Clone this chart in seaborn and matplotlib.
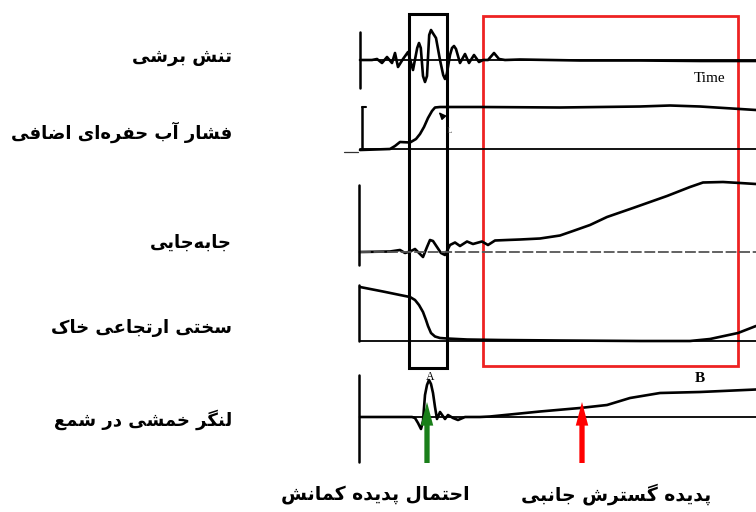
import numpy as np
import pandas as pd
import matplotlib
matplotlib.use("Agg")
import matplotlib.pyplot as plt
from matplotlib.patches import Rectangle
import seaborn as sns

# ---------------- data (time in arbitrary units, amplitude in arbitrary units) ----
shear_t = [0, 3, 4.25, 5.5, 6.75, 8, 8.75, 9.5, 10.75, 12, 13.25, 14.3, 14.75, 15.2, 15.75, 16.25,
           16.75, 17.3, 17.75, 18.2, 19, 20, 20.8, 21.25, 21.7, 22.5, 23, 23.5, 24, 25, 26.25,
           27.25, 28.5, 29.75, 30.75, 32, 33.5, 34.75, 36.25, 40, 55, 70, 85, 99]
shear_v = [0, 0, 1, -3, 3, -3, 7, -7, 1, 8, -10, 12, 17, 12, -16, -22,
           -16, 25, 30, 27, 22, 0, -15, -19, -14, 5, 12, 14, 11, -3, 6,
           -3, 5, -2, 0, 0, 7, 1, 0, 0.5, -0.5, -0.5, -1, -1]

pore_t = [0, 7.5, 8.75, 10, 12.5, 14, 15, 16, 17, 18, 18.75, 20, 30, 50, 70, 77.5, 85, 95, 99]
pore_v = [-1, 0, 3, 7, 6.5, 10, 15, 22, 31, 38, 41.5, 42, 42, 41.5, 42.5, 43.5, 42.5, 40, 39]

disp_t = [0, 7.5, 10, 11.25, 12.5, 13.75, 14.75, 15.75, 16.75, 17.5, 18.25, 19.25, 20.25, 21.25,
          22.5, 23.75, 25, 26.75, 28.25, 30.5, 32, 33.75, 36.75, 40, 45, 50, 53.25, 57.5, 61.75,
          68.25, 76.75, 82.5, 85.75, 90.75, 95, 99]
disp_v = [0, 0.5, 2, -1, 0.5, 3, -1, -5, 5, 12, 11, 5, -1, -3,
          7, 9.5, 6, 10.5, 8, 10.5, 7, 11.5, 12, 12.5, 13.5, 16.5, 21, 27, 35,
          44, 56, 65, 69.5, 70, 69, 68]

stiff_t = [0, 5.75, 10, 12.5, 13.75, 14.75, 15.75, 16.5, 17, 17.75, 18.75, 20, 21.75, 26.75,
           35, 50, 70, 82.5, 87.5, 94.5, 99]
stiff_v = [54, 49.5, 46, 44, 41, 36, 29, 21, 15, 8, 4.5, 3, 2.5, 1.5,
           1, 0.5, 0, 0, 2, 8, 15]

moment_t = [0, 13, 13.75, 14.5, 15.25, 15.75, 16.25, 16.75, 17.25, 17.75, 18.25, 18.75, 19.25,
            20, 21.25, 22, 23.25, 24.5, 26.25, 30, 32.5, 38.75, 45, 55, 61.75, 67.5, 75, 85, 99]
moment_v = [0, 0, -1, -6, -12, -4, 22, 32, 37, 33, 24, 10, -2,
            5, -2, 2, -1, -3, 0, 0, 0.5, 3, 5.5, 9, 12, 19, 24, 25, 27.5]

labels = ["تنش برشی", "فشار آب حفره‌ای اضافی", "جابه‌جایی", "سختی ارتجاعی خاک", "لنگر خمشی در شمع"]
bottom_labels = ["احتمال پدیده کمانش", "پدیده گسترش جانبی"]

# ---------------- Persian shaping (presentation forms, RTL) ----------------
FORMS = {
    'ا': ('\uFE8D', '\uFE8E', None, None), 'آ': ('\uFE81', '\uFE82', None, None),
    'ب': ('\uFE8F', '\uFE90', '\uFE91', '\uFE92'), 'پ': ('\uFB56', '\uFB57', '\uFB58', '\uFB59'),
    'ت': ('\uFE95', '\uFE96', '\uFE97', '\uFE98'), 'ج': ('\uFE9D', '\uFE9E', '\uFE9F', '\uFEA0'),
    'ح': ('\uFEA1', '\uFEA2', '\uFEA3', '\uFEA4'), 'خ': ('\uFEA5', '\uFEA6', '\uFEA7', '\uFEA8'),
    'د': ('\uFEA9', '\uFEAA', None, None), 'ر': ('\uFEAD', '\uFEAE', None, None),
    'ز': ('\uFEAF', '\uFEB0', None, None), 'و': ('\uFEED', '\uFEEE', None, None),
    'س': ('\uFEB1', '\uFEB2', '\uFEB3', '\uFEB4'), 'ش': ('\uFEB5', '\uFEB6', '\uFEB7', '\uFEB8'),
    'ض': ('\uFEBD', '\uFEBE', '\uFEBF', '\uFEC0'), 'ع': ('\uFEC9', '\uFECA', '\uFECB', '\uFECC'),
    'ف': ('\uFED1', '\uFED2', '\uFED3', '\uFED4'), 'ک': ('\uFB8E', '\uFB8F', '\uFB90', '\uFB91'),
    'گ': ('\uFB92', '\uFB93', '\uFB94', '\uFB95'), 'ل': ('\uFEDD', '\uFEDE', '\uFEDF', '\uFEE0'),
    'م': ('\uFEE1', '\uFEE2', '\uFEE3', '\uFEE4'), 'ن': ('\uFEE5', '\uFEE6', '\uFEE7', '\uFEE8'),
    'ه': ('\uFEE9', '\uFEEA', '\uFEEB', '\uFEEC'), 'ی': ('\uFBFC', '\uFBFD', '\uFBFE', '\uFBFF'),
}


def shape(s):
    out = []
    for i, c in enumerate(s):
        if c not in FORMS:
            out.append(c)
            continue
        prev = s[i - 1] if i > 0 else None
        nxt = s[i + 1] if i + 1 < len(s) else None
        jp = prev in FORMS and FORMS[prev][2] is not None
        jn = nxt in FORMS and FORMS[c][2] is not None
        iso, fin, ini, med = FORMS[c]
        out.append(med if (jp and jn) else fin if jp else ini if jn else iso)
    return ''.join(out).replace('\u200c', '')[::-1]


# ---------------- figure ----------------
sns.set_theme(style="white")
plt.rcParams['font.family'] = ['DejaVu Sans']
plt.rcParams['text.color'] = 'black'

fig = plt.figure(figsize=(7.56, 5.12), dpi=100)
ax = fig.add_axes([0, 0, 1, 1])
ax.set_xlim(-90, 99)
ax.set_ylim(512, 0)
ax.axis('off')

series = [(shear_t, shear_v), (pore_t, pore_v), (disp_t, disp_v), (stiff_t, stiff_v), (moment_t, moment_v)]
base = [60, 149, 252, 341, 417]
bars = [(32, 88), (107, 149), (185, 265), (285, 341), (375, 462)]
bar_x = [0, 0.5, -0.25, -0.25, -0.25]

for k, ((t, v), b) in enumerate(zip(series, base)):
    df = pd.DataFrame({"t": t, "y": b - np.asarray(v, float)})
    sns.lineplot(data=df, x="t", y="y", ax=ax, color="black", lw=1.9, sort=False, estimator=None,
                 solid_joinstyle="round", solid_capstyle="round")
    if k == 2:
        ax.plot([0, 99], [b, b], color="#555555", lw=1.3, ls=(0, (6, 1.5)))
    else:
        ax.plot([0, 99], [b, b], color="black", lw=1.3)
    ax.plot([bar_x[k], bar_x[k]], bars[k], color="black", lw=1.8)

# small details
ax.plot([0.5, 1.5], [107, 107], color="black", lw=1.5)
ax.plot([-4.0, -0.5], [152, 152], color="#333333", lw=0.9)
ax.annotate("", xy=(19.2, 110), xytext=(20.8, 117),
            arrowprops=dict(arrowstyle="-|>,head_width=0.15,head_length=0.35", color="black", lw=1))
ax.text(22.3, 131, "L", fontsize=6, color="#333333", family="Liberation Serif", ha="center", va="center")

# boxes
ax.add_patch(Rectangle((12.25, 14), 9.5, 354, fill=False, ec="black", lw=2.2))
ax.add_patch(Rectangle((30.75, 16), 63.75, 350, fill=False, ec="#ee2222", lw=2.0))

# texts on the record
ax.text(87.3, 78, "Time", fontsize=11, family="Liberation Serif", ha="center", va="center")
ax.text(17.6, 377, "A", fontsize=8.5, family="Liberation Serif", ha="center", va="center", zorder=5)
ax.text(85, 378, "B", fontsize=11, family="Liberation Serif", fontweight="bold", ha="center", va="center")

# arrows
for tx, col in [(16.75, "#1a7f1a"), (55.5, "#ff0000")]:
    ax.annotate("", xy=(tx, 402), xytext=(tx, 463),
                arrowprops=dict(arrowstyle="simple,head_length=1.7,head_width=0.9,tail_width=0.38",
                                mutation_scale=10, color=col, lw=0, shrinkA=0, shrinkB=0))

# labels
label_y = [57, 132, 243, 328, 420]
for lab, y in zip(labels, label_y):
    fig.text(232 / 756, 1 - y / 512, shape(lab), fontsize=13, fontweight="bold",
             color="black", ha="right", va="center")
fig.text(375 / 756, 1 - 494 / 512, shape(bottom_labels[0]), fontsize=13.5, fontweight="bold",
         color="black", ha="center", va="center")
fig.text(616 / 756, 1 - 494 / 512, shape(bottom_labels[1]), fontsize=13.5, fontweight="bold",
         color="black", ha="center", va="center")

fig.savefig("out.png", dpi=100, facecolor="white")
